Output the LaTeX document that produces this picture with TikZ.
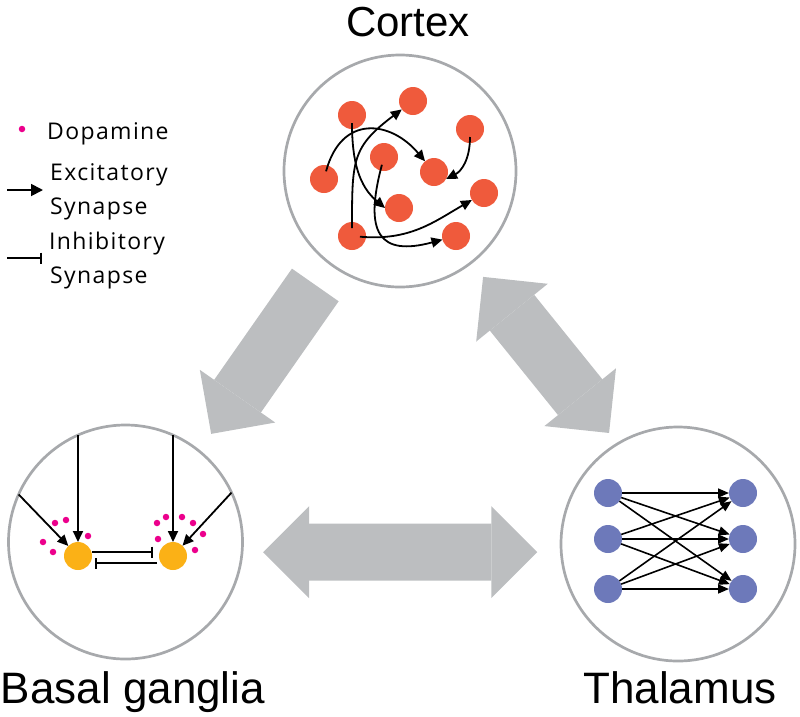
\documentclass[tikz,border=0pt]{standalone}
\usepackage{fontspec}
\setmainfont{Liberation Sans}
\newfontfamily\legendfont[LetterSpace=6]{Open Sans}
\usepackage{tikz}
\usetikzlibrary{arrows.meta}

\definecolor{ringgray}{HTML}{A7A9AC}
\definecolor{arrowgray}{HTML}{BCBEC0}
\definecolor{cortexred}{HTML}{EF5A3C}
\definecolor{thalblue}{HTML}{6D79BA}
\definecolor{bggold}{HTML}{FBB116}
\definecolor{dopapink}{HTML}{EC008C}

\begin{document}
\begin{tikzpicture}[
    x=1pt, y=1pt,
    ring/.style={circle, draw=ringgray, line width=2.7pt, inner sep=0pt, outer sep=0pt},
    neuron/.style={circle, minimum size=28pt, inner sep=0pt, outer sep=0pt},
    dopa/.style={circle, fill=dopapink, minimum size=6.5pt, inner sep=0pt},
    arr/.style={-{Triangle[length=11pt, width=10pt]}, line width=1.8pt},
    curvy/.style={arr, shorten <=-6pt},
    inh/.style={-{Bar[width=11pt]}, line width=1.6pt},
    bigarrow/.style={line width=57pt, color=arrowgray,
                     -{Triangle[length=46pt, width=92pt, line width=0pt]}},
    bigarrows/.style={line width=57pt, color=arrowgray,
                      {Triangle[length=46pt, width=92pt, line width=0pt]}-{Triangle[length=46pt, width=92pt, line width=0pt]}},
    title/.style={font=\fontsize{42}{50}\selectfont, anchor=base, inner sep=0pt},
    legend/.style={font=\legendfont\fontsize{23}{28}\selectfont, anchor=base west, inner sep=0pt}
]
    \useasboundingbox (0,0) rectangle (800,-716);

    % Regions
    \node[ring, minimum size=232pt] (cortex) at (400,-171) {};
    \node[ring, minimum size=234pt] (bg) at (125.5,-542) {};
    \node[ring, minimum size=234pt] (thal) at (678,-544) {};

    % Labels
    \node[title] (cortexlabel) at (408,-36) {Cortex};
    \node[title, font=\fontsize{44}{50}\selectfont] (bglabel) at (133,-703) {Basal ganglia};
    \node[title, font=\fontsize{44}{50}\selectfont] (thallabel) at (680,-703) {Thalamus};

    % Pathways between regions
    \draw[bigarrow, shorten <=26pt, shorten >=21pt] (cortex.-127) -- (bg.51);
    \draw[bigarrows, shorten <=18.6pt, shorten >=13.8pt] (cortex.-52) -- (thal.121);
    \draw[bigarrows, shorten <=21pt, shorten >=24pt] (bg.-5) -- (thal.184);

    % Cortex neurons
    \node[neuron, fill=cortexred] (c1) at (352,-115) {};
    \node[neuron, fill=cortexred] (c2) at (413,-101) {};
    \node[neuron, fill=cortexred] (c3) at (470,-129) {};
    \node[neuron, fill=cortexred] (c4) at (384,-157) {};
    \node[neuron, fill=cortexred] (c5) at (324,-179) {};
    \node[neuron, fill=cortexred] (c6) at (434,-172) {};
    \node[neuron, fill=cortexred] (c7) at (484,-193) {};
    \node[neuron, fill=cortexred] (c8) at (399,-208) {};
    \node[neuron, fill=cortexred] (c9) at (352,-236) {};
    \node[neuron, fill=cortexred] (c10) at (456,-236) {};

    \draw[curvy] (c5) to[out=75, in=130, looseness=1.4] (c6);
    \draw[curvy] (c1) to[out=-90, in=140] (c8.west);
    \draw[curvy] (c9) to[out=90, in=217, looseness=1.3] (c2);
    \draw[curvy] (c3) to[out=-90, in=27] (c6.-30);
    \draw[curvy] (c4) to[out=-105, in=195, looseness=1.8] (c10);
    \draw[curvy] (c9) to[out=-5, in=210] (c7);

    % Thalamus neurons
    \foreach \i/\y in {1/493, 2/539, 3/589} {
        \node[neuron, fill=thalblue] (l\i) at (608,-\y) {};
        \node[neuron, fill=thalblue] (r\i) at (743,-\y) {};
    }
    \foreach \i in {1,2,3}
        \foreach \j in {1,2,3}
            \draw[-{Triangle[length=11pt, width=9pt]}, line width=1.6pt] (l\i) -- (r\j);

    % Basal ganglia neurons
    \node[neuron, fill=bggold] (b1) at (78,-556) {};
    \node[neuron, fill=bggold] (b2) at (173,-556) {};

    \draw[arr] (bg.114) -- (b1);
    \draw[arr] (bg.156) -- (b1);
    \draw[arr] (bg.66) -- (b2);
    \draw[arr] (bg.25) -- (b2);
    \draw[inh] ([yshift=4pt]b1.east) -- ([yshift=4pt, xshift=-6pt]b2.west);
    \draw[inh] ([yshift=-7pt, xshift=-2pt]b2.west) -- ([yshift=-7pt, xshift=3pt]b1.east);

    % Dopamine
    \foreach \x/\y [count=\k] in {55/523, 66/520, 88/536, 43/542, 53/552,
                                  157/523, 166/517, 182/517, 193/523, 203/534, 158/539, 195/550}
        \node[dopa] (dopa\k) at (\x,-\y) {};

    % Legend
    \node[dopa] (keydot) at (22,-129) {};
    \node[legend] (keydopa) at (47,-139) {Dopamine};
    \node[legend] (keyexc) at (50,-180) {Excitatory};
    \node[legend] (keyexcsyn) at (50,-214) {Synapse};
    \node[legend] (keyinh) at (49,-249) {Inhibitory};
    \node[legend] (keyinhsyn) at (50,-283) {Synapse};
    \coordinate (excfrom) at (7,-190);
    \coordinate (excto) at (43,-190);
    \coordinate (inhfrom) at (7,-258);
    \coordinate (inhto) at (42,-258);
    \draw[-{Triangle[length=12pt, width=12pt]}, line width=1.8pt] (excfrom) -- (excto);
    \draw[inh] (inhfrom) -- (inhto);

\end{tikzpicture}
\end{document}
